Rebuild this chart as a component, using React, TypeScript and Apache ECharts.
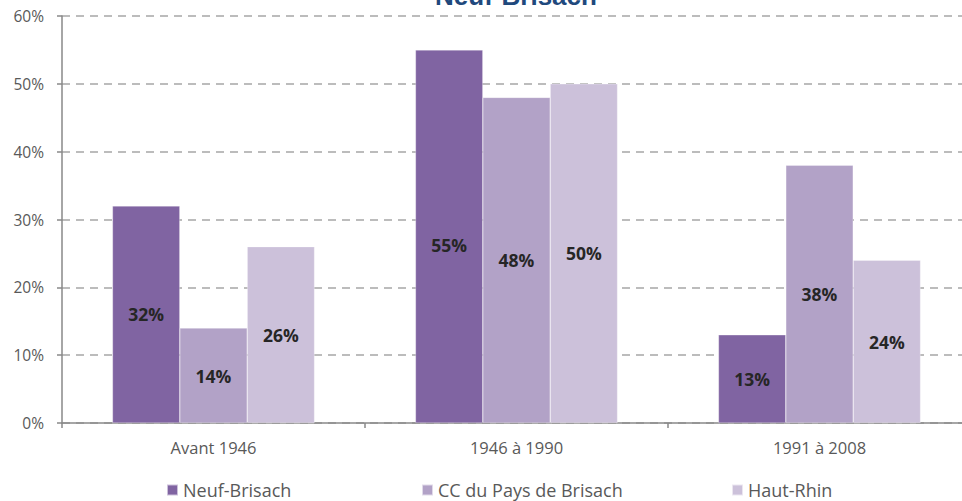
import React, { useEffect, useRef } from "react";
import * as echarts from "echarts";

const categories = ["Avant 1946", "1946 à 1990", "1991 à 2008"];
const neufBrisach = [32, 55, 13];
const ccPaysBrisach = [14, 48, 38];
const hautRhin = [26, 50, 24];
const seriesNames = ["Neuf-Brisach", "CC du Pays de Brisach", "Haut-Rhin"];
const colors = ["#8064A2", "#B2A2C7", "#CCC1DA"];
const yTicks = { min: 0, max: 60, interval: 10 };

const FONT = "'Open Sans', 'Liberation Sans', sans-serif";

export default function App() {
  const ref = useRef<HTMLDivElement>(null);
  useEffect(() => {
    if (!ref.current) return;
    const chart = echarts.init(ref.current, undefined, { renderer: "svg" });
    const dataSets = [neufBrisach, ccPaysBrisach, hautRhin];
    const legendLefts = [166, 421, 731];
    chart.setOption({
      animation: false,
      title: {
        text: "Neuf-Brisach",
        left: 516,
        textAlign: "center",
        top: -17,
        padding: 0,
        textStyle: { fontFamily: "Arial, 'Liberation Sans', sans-serif", fontSize: 26, lineHeight: 26, fontWeight: "bold", color: "#1F497D" },
      },
      legend: seriesNames.map((n, i) => ({
        data: [n],
        left: legendLefts[i],
        top: 481,
        padding: 0,
        icon: "rect",
        itemWidth: 11,
        itemHeight: 11,
        itemGap: 5,
        textStyle: { fontFamily: FONT, fontSize: 18, lineHeight: 18, color: "#595959", padding: [0, 0, 0, 0] },
      })),
      grid: { left: 62, top: 16, width: 909, height: 407, containLabel: false },
      xAxis: {
        type: "category",
        data: categories,
        axisLine: { lineStyle: { color: "#898989", width: 1.5 } },
        axisTick: { show: true, length: 5, lineStyle: { color: "#898989", width: 1.5 } },
        axisLabel: { margin: 16, fontFamily: FONT, fontSize: 16.5, color: "#595959" },
      },
      yAxis: {
        type: "value",
        min: yTicks.min,
        max: yTicks.max,
        interval: yTicks.interval,
        axisLine: { show: true, lineStyle: { color: "#898989", width: 1.5 } },
        axisTick: { show: true, length: 5, lineStyle: { color: "#898989", width: 1.5 } },
        axisLabel: { margin: 18, fontFamily: FONT, fontSize: 15.5, color: "#595959", formatter: "{value}%" },
        splitLine: { lineStyle: { color: "#A6A6A6", width: 1.5, type: [8, 6] } },
      },
      series: seriesNames.map((n, i) => ({
        name: n,
        type: "bar",
        data: dataSets[i].map((v, j) =>
          i === 0 && j === 1 ? { value: v, label: { offset: [0, 9] } } : v
        ),
        barGap: "0%",
        barCategoryGap: "33.3%",
        itemStyle: { color: colors[i], borderColor: "rgba(255,255,255,0.6)", borderWidth: 0.5 },
        label: {
          show: true,
          position: "inside",
          formatter: "{c}%",
          fontFamily: FONT,
          fontSize: 17.5,
          fontWeight: "bold",
          color: "#262626",
        },
      })),
    });
    return () => chart.dispose();
  }, []);
  return (
    <div style={{ width: 962, height: 501, position: "absolute", left: 0, top: 0, overflow: "hidden" }}>
      <div ref={ref} style={{ width: 980, height: 501 }} />
    </div>
  );
}
